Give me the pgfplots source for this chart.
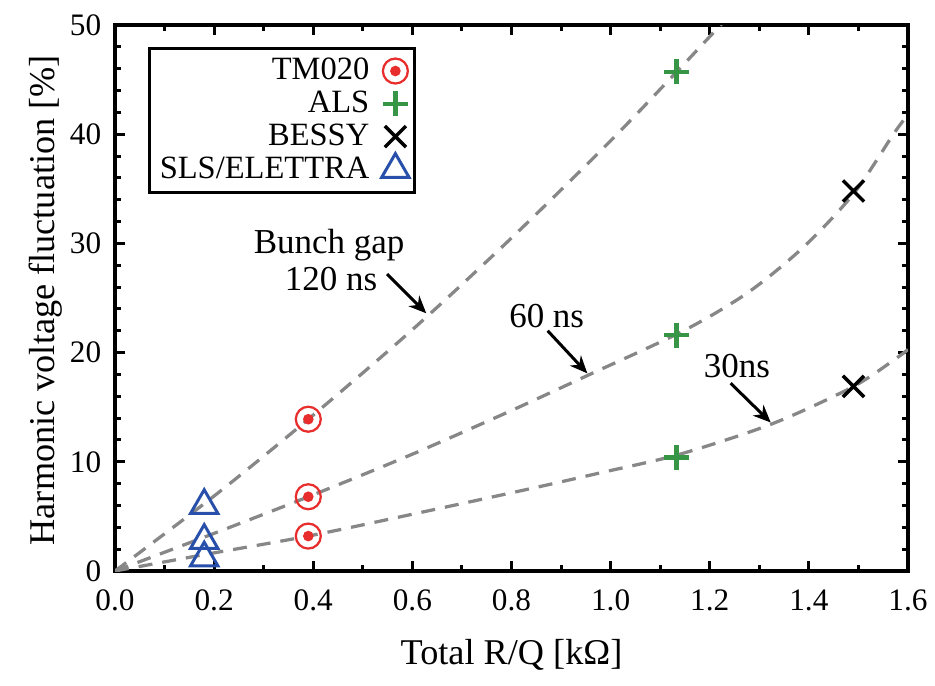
\documentclass[border=0pt]{standalone}
\usepackage{fontspec}
\setmainfont{Liberation Serif}
\usepackage{pgfplots}
\pgfplotsset{compat=1.18}
\usetikzlibrary{arrows.meta}
\definecolor{cred}{RGB}{232,45,45}
\definecolor{cgreen}{RGB}{55,150,70}
\definecolor{cblue}{RGB}{40,80,170}
\definecolor{cgray}{RGB}{135,135,135}
\pgfdeclareplotmark{circdot}{%
  \pgfpathcircle{\pgfpointorigin}{\pgfplotmarksize}\pgfusepathqstroke
  \pgfpathcircle{\pgfpointorigin}{0.33\pgfplotmarksize}\pgfusepathqfillstroke}
\begin{document}
\begin{tikzpicture}
\path[use as bounding box] (-46pt,-45.6pt) rectangle (328pt,228.4pt);
\begin{axis}[
  scale only axis, width=317.2pt, height=218.4pt,
  xmin=0, xmax=1.6, ymin=0, ymax=50,
  xtick={0,0.2,0.4,0.6,0.8,1.0,1.2,1.4,1.6},
  ytick={0,10,20,30,40,50},
  minor x tick num=1, minor y tick num=4,
  tick align=inside,
  major tick length=4pt, minor tick length=2.4pt,
  every tick/.style={black, line width=1.2pt},
  axis line style={line width=1.6pt},
  /pgf/number format/assume math mode=true,
  xticklabel={\pgfmathprintnumber[fixed, fixed zerofill, precision=1, assume math mode=true]{\tick}},
  yticklabel={\pgfmathprintnumber[assume math mode=true]{\tick}},
  xticklabel style={font=\fontsize{12.5}{14}\selectfont, yshift=-4pt},
  yticklabel style={font=\fontsize{12.5}{14}\selectfont, xshift=-2pt},
  xlabel={Total R/Q [kΩ]},
  ylabel={Harmonic voltage fluctuation [\%]},
  xlabel style={font=\fontsize{14.5}{16}\selectfont, at={(axis description cs:0.5,0)}, anchor=center, yshift=-33.6pt},
  ylabel style={font=\fontsize{14.5}{16}\selectfont, at={(axis description cs:-0.088,0.496)}, anchor=center},
  legend style={at={(axis description cs:0.042,0.96)}, anchor=north west, draw=black, line width=1.2pt, font=\fontsize{13}{14}\selectfont, inner sep=2pt, row sep=-1pt, column sep=3pt},
  legend cell align=right, legend plot pos=right,
]
% dashed curves
\addplot[forget plot, cgray, line width=1.3pt, dash pattern=on 5.6pt off 4pt, smooth] coordinates {
(0,0) (0.2,6.87) (0.39,13.9) (0.6,22.1) (0.8,30.5) (1.0,39.4) (1.133,45.7) (1.222,50) (1.25,51.3)};
\addplot[forget plot, cgray, line width=1.3pt, dash pattern=on 5.6pt off 4pt, smooth] coordinates {
(0,0) (0.18,3.1) (0.39,6.8) (0.6,10.7) (0.8,14.7) (0.953,17.9) (1.147,22.0) (1.277,25.5) (1.39,29.7) (1.491,34.6) (1.572,40.1) (1.6,41.8)};
\addplot[forget plot, cgray, line width=1.3pt, dash pattern=on 5.6pt off 4pt, smooth] coordinates {
(0,0) (0.18,1.5) (0.39,3.2) (0.6,5.2) (0.844,7.6) (0.98,9.0) (1.14,10.7) (1.327,13.5) (1.49,16.9) (1.58,19.6) (1.6,20.3)};
% markers
\addplot[only marks, mark=circdot, mark size=5pt, mark options={draw=cred, fill=cred, line width=0.9pt}] coordinates {
(0.39,13.9) (0.39,6.8) (0.39,3.2)};
\addlegendentry{TM020}
\addplot[only marks, mark=+, mark size=5pt, mark options={draw=cgreen, line width=1.8pt}] coordinates {
(1.133,45.7) (1.133,21.6) (1.133,10.4)};
\addlegendentry{ALS}
\addplot[only marks, mark=x, mark size=6pt, mark options={draw=black, line width=1.4pt}] coordinates {
(1.49,34.8) (1.49,16.9)};
\addlegendentry{BESSY}
\addplot[only marks, mark=triangle, mark size=6.3pt, mark options={draw=cblue, line width=1.2pt}] coordinates {
(0.18,6.0) (0.18,2.8) (0.18,1.2)};
\addlegendentry{SLS/ELETTRA}
% annotations
\node[font=\fontsize{14}{15}\selectfont, anchor=base] at (axis cs:0.432,29.1) {Bunch gap};
\node[font=\fontsize{14}{15}\selectfont, anchor=base] at (axis cs:0.436,25.7) {120 ns};
\node[font=\fontsize{14}{15}\selectfont, anchor=base] at (axis cs:0.871,22.3) {60 ns};
\node[font=\fontsize{14}{15}\selectfont, anchor=base] at (axis cs:1.255,17.7) {30ns};
\draw[line width=1.2pt, -{Stealth[length=7pt, width=6pt]}] (axis cs:0.549,27.2) -- (axis cs:0.628,23.6);
\draw[line width=1.2pt, -{Stealth[length=7pt, width=6pt]}] (axis cs:0.873,22.0) -- (axis cs:0.953,18.1);
\draw[line width=1.2pt, -{Stealth[length=7pt, width=6pt]}] (axis cs:1.242,17.2) -- (axis cs:1.323,13.6);
\end{axis}
\end{tikzpicture}
\end{document}
